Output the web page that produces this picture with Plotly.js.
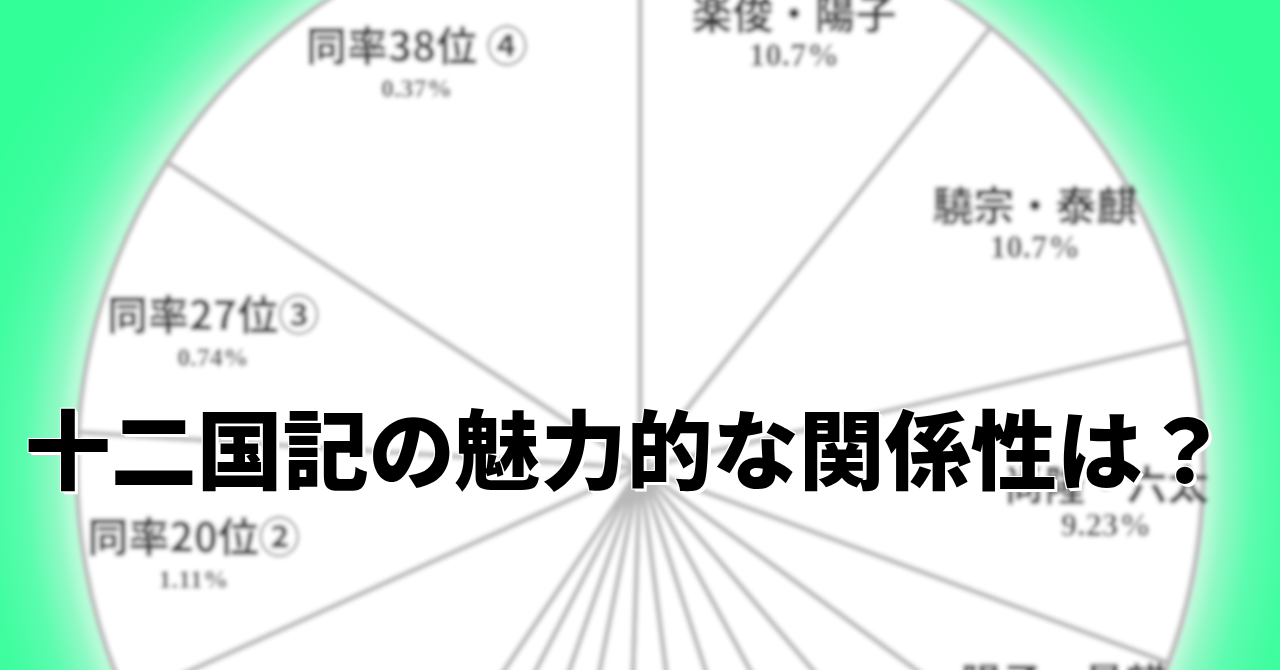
<!DOCTYPE html>
<html>
<head>
<meta charset="utf-8">
<script src="https://cdn.plot.ly/plotly-3.0.1.min.js"></script>
<style>
html, body { margin: 0; padding: 0; width: 1280px; height: 670px; overflow: hidden; }
body {
  position: relative;
  background: radial-gradient(circle at 640px 468px,
    #ffffff 0px, #ffffff 556px, #c6fbdf 564px, #8ff9c4 585px,
    #5cfcae 615px, #40fda0 655px, #33ff99 710px, #33ff99 100%);
}
#chart { position: absolute; left: 0; top: -122px; width: 1280px; height: 1180px; }
</style>
</head>
<body>
<div id="chart"></div>
<script>
// ---- data (votes per slice, clockwise from 12 o'clock) ----
const sliceIds = ['楽俊・陽子', '驍宗・泰麒', '尚隆・六太', '陽子・景麒',
  '5位', '6位', '7位A', '7位B', '9位A', '9位B', '11位A', '11位B', '13位',
  '同率14位①', '同率20位②', '同率27位③', '同率38位 ④'];
const votes = [29, 29, 25, 12, 10, 9, 8, 8, 7, 7, 6, 6, 5, 24, 21, 22, 43];
const shownNames = ['楽俊・陽子', '驍宗・泰麒', '尚隆・六太', '陽子・景麒',
  '', '', '', '', '', '', '', '', '', '', '同率20位②', '同率27位③', '同率38位 ④'];
const shownPct = ['10.7%', '10.7%', '9.23%', '4.43%',
  '', '', '', '', '', '', '', '', '', '', '1.11%', '0.74%', '0.37%'];

// pie radius (px); label layers use their own radii only to place the texts
const rPie = 563, rText = 590;
const labelLayers = [
  { names: ['同率20位②', '同率27位③'], r: 563 },
  { names: ['陽子・景麒'], r: 547 }
];

function fmt(n, i) {
  const small = n.indexOf('同率') === 0;
  return '<span style="font-size:41px;font-weight:700">' + n + '</span><br>' +
    '<span style="font-family:Liberation Serif;font-weight:700;font-size:' +
    (small ? 26 : 33) + 'px;fill:#484848">' + shownPct[i] + '</span>';
}
const special = labelLayers.reduce((a, l) => a.concat(l.names), []);

function domainFor(R) {
  const h = R / (2 * rText);
  return { x: [0, 1], y: [0.5 - h, 0.5 + h] };
}

const common = {
  type: 'pie',
  labels: sliceIds,
  values: votes,
  sort: false,
  direction: 'clockwise',
  rotation: 0,
  hoverinfo: 'skip',
  showlegend: false
};

const basePie = Object.assign({}, common, {
  textinfo: 'none',
  marker: { colors: sliceIds.map(() => '#ffffff'), line: { color: '#b9b9b9', width: 5 } },
  domain: domainFor(rPie)
});

function textTrace(txt, dom) {
  return Object.assign({}, common, {
    hole: 0.583,
    text: txt,
    textinfo: 'text',
    textposition: 'inside',
    insidetextorientation: 'horizontal',
    textfont: { family: 'Noto Sans CJK JP, sans-serif', size: 28, color: '#3c3c3c' },
    marker: { colors: sliceIds.map(() => 'rgba(0,0,0,0)'), line: { width: 0 } },
    domain: dom
  });
}

const traces = [basePie,
  textTrace(shownNames.map((n, i) => (n && special.indexOf(n) < 0) ? fmt(n, i) : ''), domainFor(rText))];
labelLayers.forEach(l => {
  traces.push(textTrace(shownNames.map((n, i) => (n && l.names.indexOf(n) >= 0) ? fmt(n, i) : ''), domainFor(l.r)));
});

const layout = {
  width: 1280,
  height: 1180,
  margin: { l: 0, r: 0, t: 0, b: 0 },
  paper_bgcolor: 'rgba(0,0,0,0)',
  plot_bgcolor: 'rgba(0,0,0,0)',
  showlegend: false,
  uniformtext: { mode: 'show', minsize: 28 },
  title: {
    text: '十二国記の魅力的な関係性は？',
    xref: 'paper', yref: 'paper',
    x: 0.4897, xanchor: 'center',
    y: 0.5127, yanchor: 'middle',
    font: {
      family: 'Noto Sans CJK JP, sans-serif', size: 86, color: '#000000', weight: 900,
      shadow: '3px 3px 0 #ffffff, 2px 2px 0 #ffffff, -1px -1px 0 #ffffff, 1px -1px 0 #ffffff, -1px 1px 0 #ffffff'
    }
  }
};

Plotly.newPlot('chart', traces, layout, { displayModeBar: false, staticPlot: true }).then(gd => {
  const svg = gd.querySelector('svg.main-svg');
  const ns = 'http://www.w3.org/2000/svg';
  const defs = document.createElementNS(ns, 'defs');
  const filt = document.createElementNS(ns, 'filter');
  filt.setAttribute('id', 'pieblur');
  filt.setAttribute('x', '-5%'); filt.setAttribute('y', '-5%');
  filt.setAttribute('width', '110%'); filt.setAttribute('height', '110%');
  const blur = document.createElementNS(ns, 'feGaussianBlur');
  blur.setAttribute('stdDeviation', '2.1');
  filt.appendChild(blur);
  defs.appendChild(filt);
  svg.insertBefore(defs, svg.firstChild);
  gd.querySelectorAll('.pielayer').forEach(g => g.setAttribute('filter', 'url(#pieblur)'));
});
</script>
</body>
</html>
